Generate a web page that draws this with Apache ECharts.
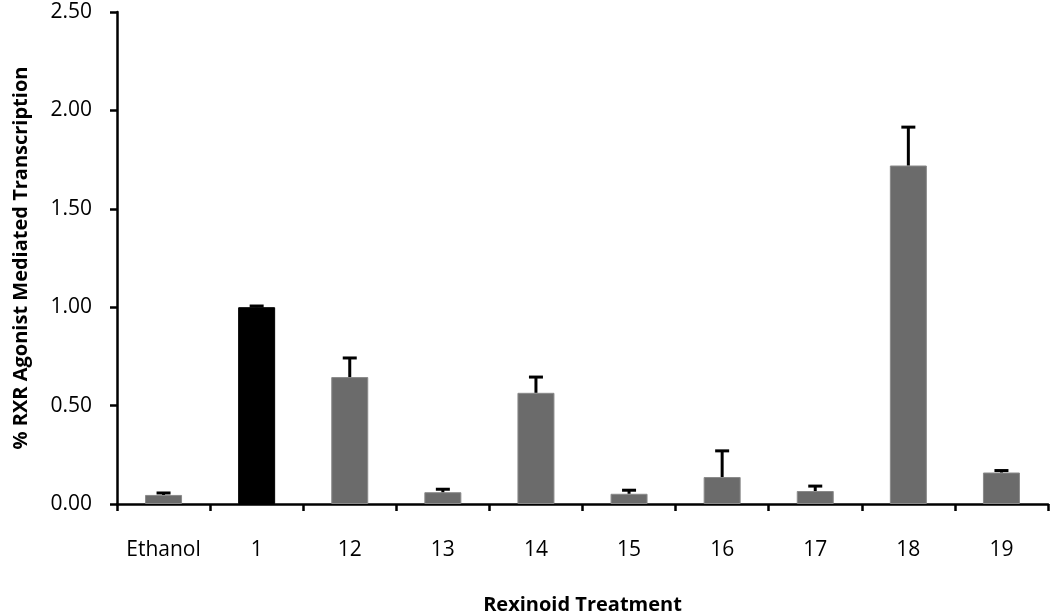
<!DOCTYPE html>
<html>
<head>
<meta charset="utf-8">
<script src="https://cdn.jsdelivr.net/npm/echarts@6/dist/echarts.min.js"></script>
<style>html,body{margin:0;padding:0;background:#fff}#c{width:1050px;height:615px}</style>
</head>
<body>
<div id="c"></div>
<script>
const categories = ['Ethanol','1','12','13','14','15','16','17','18','19'];
const values = [0.046, 1.00, 0.645, 0.06, 0.565, 0.052, 0.137, 0.066, 1.72, 0.16];
const errors = [0.010, 0.006, 0.097, 0.015, 0.080, 0.018, 0.133, 0.025, 0.195, 0.010];
const barColors = ['#6b6b6b','#000000','#6b6b6b','#6b6b6b','#6b6b6b','#6b6b6b','#6b6b6b','#6b6b6b','#6b6b6b','#6b6b6b'];
const yTicks = [0, 0.5, 1.0, 1.5, 2.0, 2.5];

const FONT = '"Open Sans", sans-serif';
const chart = echarts.init(document.getElementById('c'), null, {renderer:'canvas'});
chart.setOption({
  animation: false,
  backgroundColor: '#fff',
  grid: {left: 117, right: 2, top: 12, bottom: 111, containLabel: false, outerBoundsMode: 'none'},
  xAxis: {
    type: 'category',
    data: categories,
    name: 'Rexinoid Treatment',
    nameLocation: 'middle',
    nameGap: 91,
    nameTextStyle: {fontFamily: FONT, fontSize: 20, fontWeight: 'bold', color: '#000'},
    axisLine: {lineStyle: {color: '#000', width: 2.5}},
    axisTick: {show: true, length: 7, lineStyle: {color: '#000', width: 2.5}},
    axisLabel: {fontFamily: FONT, fontSize: 21, color: '#000', margin: 36, interval: 0},
    splitLine: {show: false}
  },
  yAxis: {
    type: 'value',
    min: yTicks[0], max: yTicks[yTicks.length-1], interval: 0.5,
    name: '% RXR Agonist Mediated Transcription',
    nameLocation: 'middle',
    nameGap: 86,
    nameTextStyle: {fontFamily: FONT, fontSize: 20, fontWeight: 'bold', color: '#000'},
    axisLine: {show: true, lineStyle: {color: '#000', width: 2.5}},
    axisTick: {show: true, length: 7, lineStyle: {color: '#000', width: 2.5}},
    axisLabel: {fontFamily: FONT, fontSize: 21, color: '#000', margin: 25,
      padding: [8, 0, 0, 0],
      formatter: v => v.toFixed(2)},
    splitLine: {show: false}
  },
  series: [
    {
      type: 'bar',
      barWidth: 37,
      data: values.map((v, i) => ({value: v, itemStyle: {color: barColors[i], borderColor: i === 1 ? '#000' : '#8a8a8a', borderWidth: 1}})),
      z: 2
    },
    {
      type: 'custom',
      z: 3,
      data: values.map((v, i) => [i, v, v + errors[i]]),
      renderItem: function (params, api) {
        const x = api.value(0);
        const p0 = api.coord([x, api.value(1)]);
        const p1 = api.coord([x, api.value(2)]);
        const hw = 7;
        return {
          type: 'group',
          children: [
            {type: 'line', shape: {x1: p0[0], y1: p0[1], x2: p1[0], y2: p1[1]}, style: {stroke: '#000', lineWidth: 3}},
            {type: 'line', shape: {x1: p1[0] - hw, y1: p1[1], x2: p1[0] + hw, y2: p1[1]}, style: {stroke: '#000', lineWidth: 3}}
          ]
        };
      }
    }
  ]
});
</script>
</body>
</html>
